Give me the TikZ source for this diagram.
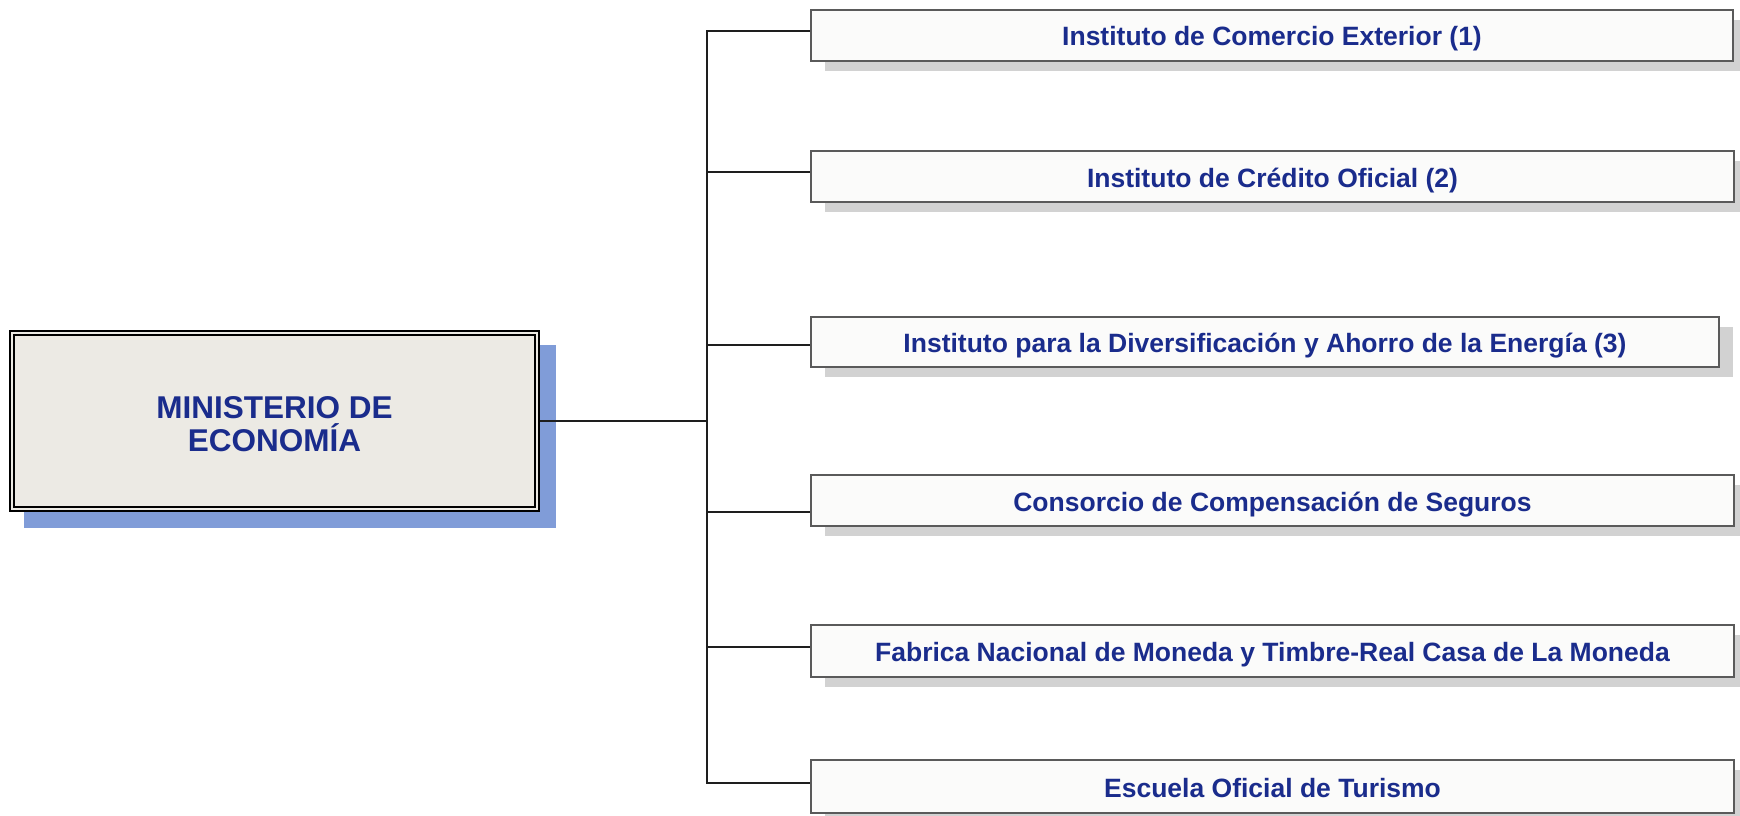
\documentclass[tikz,border=0pt]{standalone}
\usepackage{fontspec}
\setmainfont{Liberation Sans}
\usetikzlibrary{shadows}
\definecolor{textblue}{RGB}{26,44,140}
\definecolor{mainfill}{RGB}{236,234,228}
\definecolor{shblue}{RGB}{128,156,216}
\definecolor{boxfill}{RGB}{251,251,250}
\definecolor{boxline}{RGB}{90,90,90}
\definecolor{shgray}{RGB}{210,210,210}
\definecolor{conn}{RGB}{30,30,30}
\pgfdeclarelayer{back}
\pgfdeclarelayer{background}
\pgfsetlayers{back,background,main}
\tikzset{
  orgbox/.style={draw=boxline, line width=1.4pt, fill=boxfill, inner sep=0pt, outer sep=0pt,
    font=\bfseries\fontsize{26.5}{30}\selectfont, text=textblue,
    text height=21pt, text depth=0pt,
    drop shadow={shadow xshift=14pt, shadow yshift=-10pt, opacity=1, fill=shgray}},
  mainbox/.style={draw=black, line width=1.7pt, double=mainfill, double distance=2.6pt,
    fill=mainfill, inner sep=0pt, outer sep=0pt},
  maintext/.style={font=\bfseries\fontsize{31.5}{33}\selectfont, text=textblue, align=center, inner sep=0pt},
  connector/.style={draw=conn, line width=2pt}
}
\begin{document}
\begin{tikzpicture}[x=1pt,y=-1pt]
\useasboundingbox (0,0) rectangle (1740,816);
% main box
\node[mainbox, minimum width=525pt, minimum height=176pt] (m) at (274.5,421) {};
\node[maintext] (mt) at (274.5,424) {MINISTERIO DE\\ECONOMÍA};
\begin{pgfonlayer}{back}
  \fill[shblue] ([xshift=12pt,yshift=-12pt]m.north west) rectangle ([xshift=19pt,yshift=-19pt]m.south east);
\end{pgfonlayer}
% right boxes
\node[orgbox, minimum width=922pt, minimum height=51pt] (b1) at (1272,35.5) {Instituto de Comercio Exterior (1)};
\node[orgbox, minimum width=923pt, minimum height=51pt] (b2) at (1272.5,176.5) {Instituto de Crédito Oficial (2)};
\node[orgbox, minimum width=908pt, minimum height=50pt] (b3) at (1265,342) {Instituto para la Diversificación y Ahorro de la Energía (3)};
\node[orgbox, minimum width=923pt, minimum height=51pt] (b4) at (1272.5,500.5) {Consorcio de Compensación de Seguros};
\node[orgbox, minimum width=923pt, minimum height=52pt] (b5) at (1272.5,651) {Fabrica Nacional de Moneda y Timbre-Real Casa de La Moneda};
\node[orgbox, minimum width=923pt, minimum height=53pt] (b6) at (1272.5,786.5) {Escuela Oficial de Turismo};
% junctions on the trunk
\coordinate (j1) at (707,31);
\coordinate (j2) at (707,172);
\coordinate (j3) at (707,345);
\coordinate (j4) at (707,512);
\coordinate (j5) at (707,647);
\coordinate (j6) at (707,783);
\begin{pgfonlayer}{background}
  \draw[connector, line cap=rect] (j1) -- (j6);
  \draw[connector] (m.east) -- (m.east -| j1);
  \foreach \i in {1,...,6} {
    \draw[connector] (j\i) -- (j\i -| b\i.west);
  }
\end{pgfonlayer}
\end{tikzpicture}
\end{document}
